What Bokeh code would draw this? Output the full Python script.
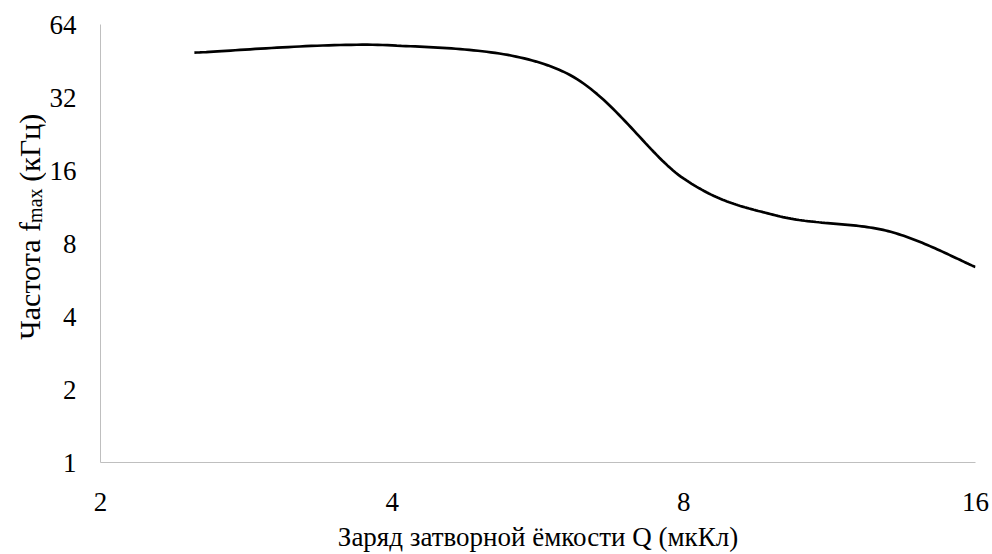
import numpy as np
from bokeh.plotting import figure
from bokeh.layouts import row
from bokeh.models import Range1d, FixedTicker
from bokeh.core.properties import value
from bokeh.embed import file_html
from bokeh.resources import INLINE

# Data (charge Q in µC, frequency f_max in kHz)
q_values = [2.5, 4.0, 6.0, 8.0, 10.0, 13.0, 16.0]
f_values = [49.0, 52.5, 41.0, 14.8, 10.4, 9.0, 6.4]

x_ticks = [2, 4, 8, 16]
y_ticks = [1, 2, 4, 8, 16, 32, 64]

x_title = "Заряд затворной ёмкости Q (мкКл)"
y_title_parts = ["Частота f", "max", "(кГц)"]

FONT = "Liberation Serif"
W, H = 992, 554
LEFT_W = 46
TOP, BOTTOM = 24, 84


def smooth(xs, ys, n=40):
    """Excel-like smoothed line (Catmull-Rom Bezier) in log2 space."""
    u = np.log2(np.asarray(xs, float))
    v = np.log2(np.asarray(ys, float))
    pts = np.column_stack([u, v])
    out = []
    m = len(pts)
    for i in range(m - 1):
        p0 = pts[i - 1] if i > 0 else pts[i]
        p1 = pts[i]
        p2 = pts[i + 1]
        p3 = pts[i + 2] if i + 2 < m else pts[i + 1]
        c1 = p1 + (p2 - p0) / 6.0
        c2 = p2 - (p3 - p1) / 6.0
        t = np.linspace(0, 1, n, endpoint=(i == m - 2))[:, None]
        b = ((1 - t) ** 3) * p1 + 3 * ((1 - t) ** 2) * t * c1 + 3 * (1 - t) * t ** 2 * c2 + t ** 3 * p2
        out.append(b)
    arr = np.vstack(out)
    return 2 ** arr[:, 0], 2 ** arr[:, 1]


sx, sy = smooth(q_values, f_values)

# --- main chart ---
p = figure(width=W - LEFT_W, height=H, x_axis_type="log", y_axis_type="log",
           x_range=Range1d(2, 16), y_range=Range1d(1, 64),
           output_backend="svg", toolbar_location=None,
           min_border_left=97 - LEFT_W, min_border_right=17,
           min_border_top=TOP, min_border_bottom=BOTTOM)
p.outline_line_color = None
p.xgrid.visible = False
p.ygrid.visible = False

p.line(sx, sy, line_color="black", line_width=2.7)

for ax in (p.xaxis[0], p.yaxis[0]):
    ax.axis_line_color = "#bfbfbf"
    ax.axis_line_width = 1
    ax.major_tick_line_color = None
    ax.minor_tick_line_color = None
    ax.major_tick_out = 0
    ax.major_tick_in = 0
    ax.minor_tick_out = 0
    ax.minor_tick_in = 0
    ax.major_label_text_font = FONT
    ax.major_label_text_font_size = "27px"
    ax.major_label_text_color = "black"

p.xaxis.ticker = FixedTicker(ticks=x_ticks)
p.yaxis.ticker = FixedTicker(ticks=y_ticks)
p.xaxis.major_label_overrides = {t: str(t) for t in x_ticks}
p.yaxis.major_label_overrides = {t: str(t) for t in y_ticks}
p.xaxis.major_label_standoff = 30
p.yaxis.major_label_standoff = 24

p.xaxis.axis_label = x_title
p.xaxis.axis_label_text_font = FONT
p.xaxis.axis_label_text_font_size = "27px"
p.xaxis.axis_label_text_font_style = "normal"
p.xaxis.axis_label_text_color = "black"
p.xaxis.axis_label_standoff = 8

# --- left strip holding the rotated y-axis title (with subscript) ---
# its frame is aligned with the main frame, so the y range is set in page pixels (measured from the bottom)
t = figure(width=LEFT_W, height=H, x_range=Range1d(0, LEFT_W), y_range=Range1d(BOTTOM, H - TOP),
           output_backend="svg", toolbar_location=None,
           x_axis_location=None, y_axis_location=None,
           min_border_left=0, min_border_right=0, min_border_top=TOP, min_border_bottom=BOTTOM)
t.outline_line_color = None
t.xgrid.visible = False
t.ygrid.visible = False

common = dict(angle=np.pi / 2, text_align="left", text_baseline="alphabetic",
              text_font=value(FONT), text_color="black")
t.text(x=[29], y=[H - 345], text=[y_title_parts[0]], text_font_size="30px", **common)
t.text(x=[34], y=[H - 345 + 119], text=[y_title_parts[1]], text_font_size="20px", **common)
t.text(x=[29], y=[H - 345 + 161], text=[y_title_parts[2]], text_font_size="30px", **common)

layout = row(t, p, spacing=0)
open("out.html", "w").write(file_html(layout, INLINE))
